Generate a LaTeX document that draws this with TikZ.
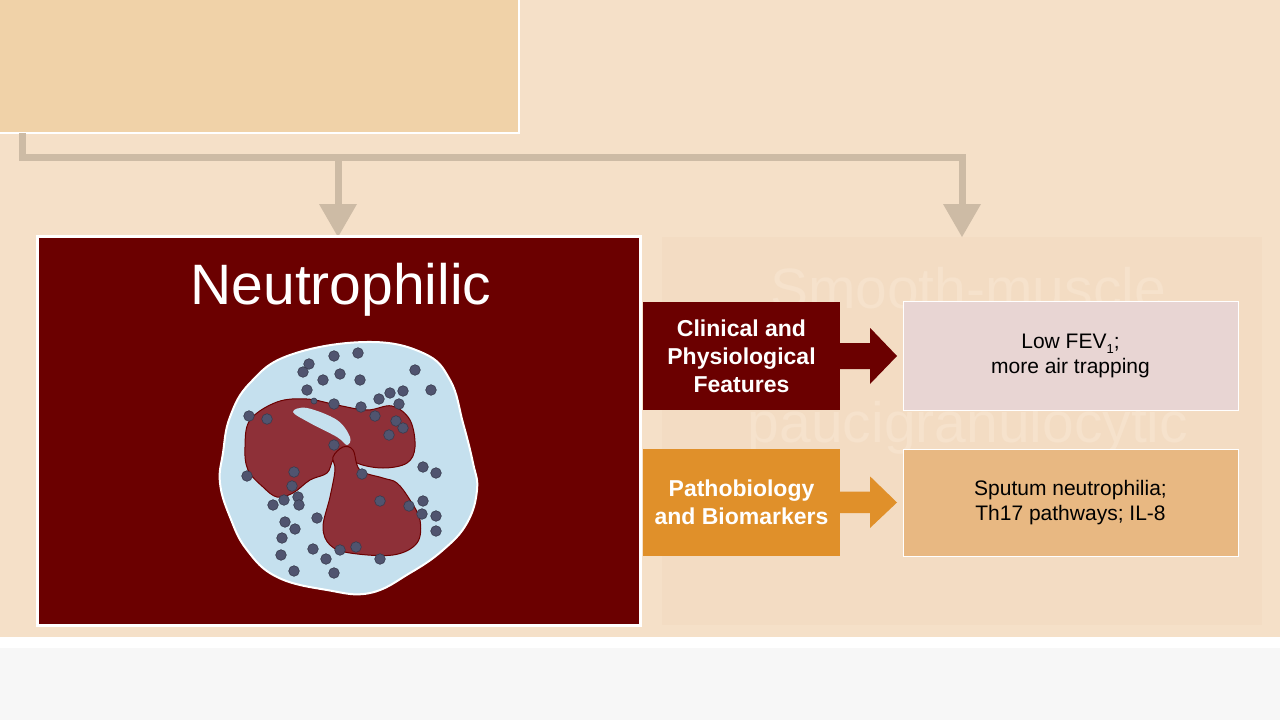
\documentclass[tikz,border=0pt]{standalone}
\usepackage{fontspec}
\setmainfont{Liberation Sans}
\begin{document}
\begin{tikzpicture}[x=1pt,y=-1pt,
  conn/.style={draw=linec,line width=7pt},
  head/.style={fill=linec},
  lbl/.style={text=white,font=\bfseries\fontsize{23}{28}\selectfont,align=center},
  rtxt/.style={font=\fontsize{21}{25}\selectfont,align=center},
  dot/.style={fill=dotc,draw=dotc!70!black,line width=0.6pt}]
\definecolor{bg}{HTML}{F5E0C8}
\definecolor{topc}{HTML}{F0D2A8}
\definecolor{linec}{HTML}{CDBBA5}
\definecolor{dred}{HTML}{6B0000}
\definecolor{orng}{HTML}{E0902A}
\definecolor{pinkc}{HTML}{E8D5D3}
\definecolor{tanc}{HTML}{E8B882}
\definecolor{fadec}{HTML}{F3DCC3}
\definecolor{fadet}{HTML}{F6E2CC}
\definecolor{cellc}{HTML}{C5E0EE}
\definecolor{nucc}{HTML}{8E3038}
\definecolor{dotc}{HTML}{50546F}
\useasboundingbox (0,0) rectangle (1280,720);
\fill[bg] (0,0) rectangle (1280,637);
\fill[white] (0,637) rectangle (1280,648);
\fill[black!3] (0,648) rectangle (1280,720);
\node[draw=white,line width=2pt,fill=topc,minimum width=520pt,minimum height=134pt,inner sep=0] (top) at (259,66) {};
% faded box
\node[fill=fadec,minimum width=600pt,minimum height=388pt,inner sep=0] (fade) at (962,431) {};
\node[text=fadet,font=\fontsize{57}{62}\selectfont] (f1) at (968,288) {Smooth-muscle};
\node[text=fadet,font=\fontsize{57}{62}\selectfont] (f2) at (968,428) {paucigranulocytic};
% connectors
\coordinate (c0) at (22,133);
\coordinate (c1) at (22,157);
\coordinate (c2) at (962,157);
\coordinate (a1) at (338,157);
\coordinate (a1e) at (338,208);
\coordinate (a2e) at (962,208);
\draw[conn] (c0) -- (c1) -- (c2) -- (a2e);
\draw[conn] (a1) -- (a1e);
\fill[head] (319,204) -- (357,204) -- (338,237) -- cycle;
\fill[head] (943,204) -- (981,204) -- (962,237) -- cycle;
% main box
\node[draw=white,line width=3pt,fill=dred,minimum width=603pt,minimum height=389pt,inner sep=0] (main) at (338.5,430.5) {};
\node[text=white,font=\fontsize{57}{62}\selectfont] (title) at (341,290) {Neutrophilic};
% cell
\draw[fill=cellc,draw=white,line width=2pt] plot[smooth cycle,tension=0.7] coordinates {
(366,342) (423,353) (450,380) (463,423) (473,463) (477,490) (467,523) (443,550) (410,573) (370,593) (327,590) (277,577) (247,550) (230,517) (220,483) (223,453) (230,417) (250,383) (290,355)};
\draw[fill=nucc,draw=dred,line width=1pt] plot[smooth cycle,tension=0.6] coordinates {
(245,447) (250,420) (277,402) (307,399) (337,405) (367,410) (392,406) (410,420) (415,447) (407,463) (383,468) (357,463) (343,450) (333,460) (327,473) (310,480) (293,493) (277,497) (263,487) (248,470)};
\fill[cellc] plot[smooth cycle,tension=0.6] coordinates {(293,412) (307,408) (337,420) (350,437) (347,445) (337,437) (310,423)};
\draw[fill=nucc,draw=dred,line width=1pt] plot[smooth cycle,tension=0.6] coordinates {
(333,457) (343,447) (353,450) (360,470) (383,478) (397,483) (410,500) (420,520) (417,543) (393,555) (350,553) (330,545) (323,527) (330,497) (335,470)};
\foreach \x/\y in {334/356,358/353,309/364,303/372,340/374,323/380,360/380,415/370,431/390,307/390,390/393,403/391,379/399,399/404,334/404,361/407,249/416,267/419,375/416,396/421,403/428,389/435,334/445,423/467,436/473,247/476,294/472,362/474,292/486,298/497,299/505,284/500,273/505,380/501,409/506,423/501,422/514,436/516,436/531,317/518,285/522,295/529,282/538,281/555,313/549,340/550,356/547,326/559,380/559,294/571,334/573}
  \fill[dot] (\x,\y) circle (5.3pt);
\fill[dot] (314,401) circle (3pt);
% side boxes
\node[fill=dred,minimum width=197pt,minimum height=108pt,inner sep=0] (clin) at (741.5,356) {};
\node[lbl] (clint) at (clin) {Clinical and\\Physiological\\Features};
\node[fill=orng,minimum width=197pt,minimum height=107pt,inner sep=0] (path) at (741.5,502.5) {};
\node[lbl] (patht) at (path) {Pathobiology\\and Biomarkers};
\node[fill=pinkc,draw=white,line width=1pt,minimum width=335pt,minimum height=109pt,inner sep=0] (r1) at (1070.5,355.5) {};
\node[rtxt] (r1t) at (r1) {Low FEV\raisebox{-0.45ex}{\fontsize{13}{14}\selectfont 1};\\more air trapping};
\node[fill=tanc,draw=white,line width=1pt,minimum width=335pt,minimum height=107pt,inner sep=0] (r2) at (1070.5,502.5) {};
\node[rtxt] (r2t) at (r2) {Sputum neutrophilia;\\Th17 pathways; IL-8};
% arrows
\fill[dred] (clin.east) ++(0,-13) -- ++(30,0) -- ++(0,-15) -- (897,356) -- (870,384) -- ++(0,-15) -- ++(-30,0) -- cycle;
\fill[orng] (path.east) ++(0,-11) -- ++(30,0) -- ++(0,-15) -- (897,502.5) -- (870,528) -- ++(0,-15) -- ++(-30,0) -- cycle;
\end{tikzpicture}
\end{document}
